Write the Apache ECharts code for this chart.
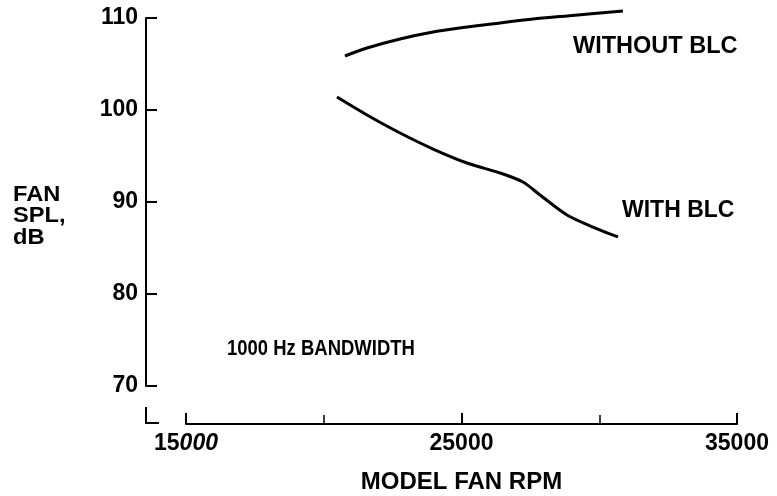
<!DOCTYPE html>
<html><head><meta charset="utf-8">
<script src="https://cdn.jsdelivr.net/npm/echarts@6/dist/echarts.min.js"></script>
<style>html,body{margin:0;padding:0;background:#fff}#c{width:777px;height:496px}</style>
</head><body><div id="c"></div>
<script>
const withoutBlcRpm = [20770, 21570, 22770, 23970, 25200, 26400, 27600, 28830, 30860];
const withoutBlcSpl = [105.87, 106.74, 107.72, 108.48, 109.02, 109.46, 109.89, 110.22, 110.76];
const withBlcRpm = [20480, 21570, 22770, 23970, 25200, 26400, 27230, 27850, 28830, 29770, 30680];
const withBlcSpl = [101.41, 99.46, 97.5, 95.76, 94.24, 93.15, 92.17, 90.76, 88.59, 87.28, 86.2];
const xTickLabels = {15000: '15000', 25000: '25000', 35000: '35000'};
const yTickLabels = [70, 80, 90, 100, 110];

const F = '"Liberation Sans", Arial, sans-serif';
const chart = echarts.init(document.getElementById('c'));
chart.setOption({
  animation: false,
  backgroundColor: '#fff',
  grid: {left: 186, right: 40, top: 18, bottom: 110, containLabel: false, outerBoundsMode: 'none'},
  xAxis: {
    type: 'value', min: 15000, max: 35000, interval: 10000,
    offset: 38,
    axisLine: {show: true, onZero: false, lineStyle: {color: '#000', width: 2}},
    axisTick: {show: true, inside: true, length: 11, lineStyle: {color: '#000', width: 2}},
    minorTick: {show: true, splitNumber: 2, length: 9, lineStyle: {color: '#000', width: 1.5}},
    splitLine: {show: false},
    axisLabel: {
      margin: 8, fontFamily: F, fontWeight: 'bold', fontSize: 23, color: '#000',
      formatter: function (v) {
        if (v === 15000) return '{n|15}{i|000}';
        return xTickLabels[v] || '';
      },
      rich: {
        n: {fontFamily: F, fontWeight: 'bold', fontSize: 23, color: '#000'},
        i: {fontFamily: F, fontStyle: 'italic', fontWeight: 'bold', fontSize: 23, color: '#000'}
      }
    },
    name: 'MODEL FAN RPM', nameLocation: 'middle', nameGap: 46,
    nameTextStyle: {fontFamily: F, fontWeight: 'bold', fontSize: 24, color: '#000'}
  },
  yAxis: {
    type: 'value', min: 70, max: 110, interval: 10,
    offset: 40,
    axisLine: {show: true, lineStyle: {color: '#000', width: 2}},
    axisTick: {show: true, inside: true, length: 11, lineStyle: {color: '#000', width: 2}},
    splitLine: {show: false},
    axisLabel: {
      margin: 8, fontFamily: F, fontWeight: 'bold', fontSize: 23, color: '#000',
      formatter: function (v) { return yTickLabels.indexOf(v) >= 0 ? String(v) : ''; }
    }
  },
  series: [
    {
      type: 'line', name: 'WITHOUT BLC', smooth: 0.3, symbol: 'none', clip: false,
      lineStyle: {color: '#000', width: 3},
      data: withoutBlcRpm.map((x, i) => [x, withoutBlcSpl[i]])
    },
    {
      type: 'line', name: 'WITH BLC', smooth: 0.3, symbol: 'none', clip: false,
      lineStyle: {color: '#000', width: 3},
      data: withBlcRpm.map((x, i) => [x, withBlcSpl[i]])
    }
  ],
  graphic: [
    {type: 'text', x: 573, y: 47, style: {text: 'WITHOUT BLC', fill: '#000', font: 'bold 23.5px ' + F, verticalAlign: 'middle', align: 'left'}},
    {type: 'text', x: 622, y: 210.5, style: {text: 'WITH BLC', fill: '#000', font: 'bold 23px ' + F, verticalAlign: 'middle', align: 'left'}},
    {type: 'text', x: 227, y: 348.5, scaleX: 0.84, style: {text: '1000 Hz BANDWIDTH', fill: '#000', font: 'bold 22px ' + F, verticalAlign: 'middle', align: 'left'}},
    {type: 'text', x: 13, y: 216.5, scaleX: 1.1, style: {text: 'FAN\nSPL,\ndB', fill: '#000', font: 'bold 21.5px ' + F, lineHeight: 21.7, verticalAlign: 'middle', align: 'left'}},
    {type: 'polyline', shape: {points: [[146, 407], [146, 423], [159, 423]]}, style: {stroke: '#000', lineWidth: 2, fill: null}}
  ]
});
</script></body></html>
